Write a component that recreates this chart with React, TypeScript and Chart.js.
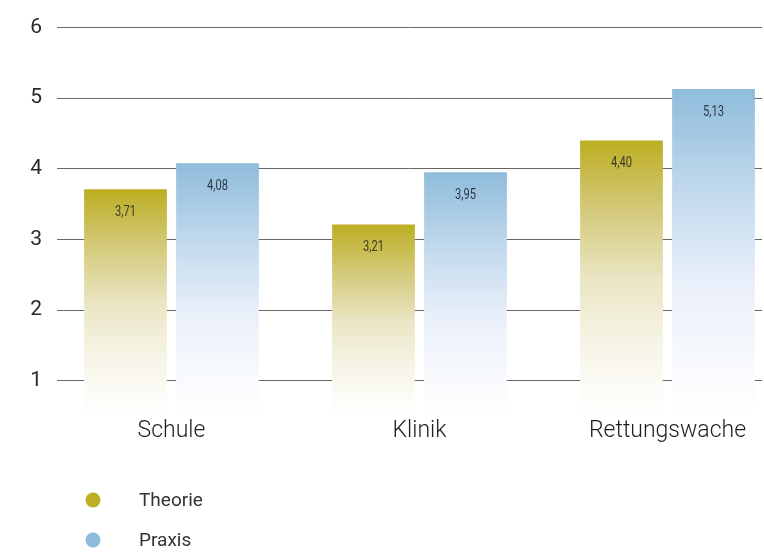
import React, { useEffect, useRef } from "react";
import { Chart, registerables } from "chart.js";

Chart.register(...registerables);

const categories = ["Schule", "Klinik", "Rettungswache"];
const theorieValues = [3.71, 3.21, 4.4];
const praxisValues = [4.08, 3.95, 5.13];
const seriesNames = ["Theorie", "Praxis"];
const yTickValues = [1, 2, 3, 4, 5, 6];

const THEORIE_COLOR = "#BDAE22";
const PRAXIS_COLOR = "#8FBCDB";
const FONT = "Roboto, 'Noto Sans', sans-serif";

function makeGradient(ctx: any, top: number, bottom: number, stops: [number, string][]) {
  const g = ctx.createLinearGradient(0, top, 0, bottom);
  stops.forEach(([o, c]) => g.addColorStop(o, c));
  return g;
}

const theorieStops: [number, string][] = [
  [0, "#BDAE22"],
  [0.25, "#D3C979"],
  [0.5, "#EAE5C3"],
  [0.75, "#F7F5E8"],
  [1, "#FFFFFF"],
];
const praxisStops: [number, string][] = [
  [0, "#8FBCDB"],
  [0.3, "#C0D8EC"],
  [0.6, "#EAF0FA"],
  [0.85, "#F8FAFD"],
  [1, "#FFFFFF"],
];

function barFill(stops: [number, string][], fallback: string) {
  return (context: any) => {
    const chart = context.chart;
    const area = chart.chartArea;
    if (!area || context.parsed == null || context.parsed.y == null) return fallback;
    const top = chart.scales.y.getPixelForValue(context.parsed.y);
    return makeGradient(chart.ctx, top, area.bottom, stops);
  };
}

const valueLabelPlugin = {
  id: "valueLabels",
  afterDatasetsDraw(chart: any) {
    const ctx = chart.ctx;
    chart.data.datasets.forEach((ds: any, di: number) => {
      const meta = chart.getDatasetMeta(di);
      meta.data.forEach((bar: any, i: number) => {
        const v = ds.data[i].y;
        const text = v.toFixed(2).replace(".", ",");
        ctx.save();
        ctx.translate(bar.x, bar.y + 23);
        ctx.scale(0.74, 1);
        ctx.font = `15px ${FONT}`;
        ctx.fillStyle = di === 0 ? "#3a3a2c" : "#2e3845";
        ctx.textAlign = "center";
        ctx.textBaseline = "middle";
        ctx.fillText(text, 0, 0);
        ctx.restore();
      });
    });
  },
};

const legendPlugin = {
  id: "customLegend",
  afterDraw(chart: any) {
    const ctx = chart.ctx;
    const colors = [THEORIE_COLOR, PRAXIS_COLOR];
    chart.data.datasets.forEach((ds: any, i: number) => {
      const cy = 500 + i * 40;
      ctx.save();
      ctx.beginPath();
      ctx.arc(93, cy, 7.5, 0, Math.PI * 2);
      ctx.fillStyle = colors[i];
      ctx.fill();
      ctx.font = `19px ${FONT}`;
      ctx.fillStyle = "#333333";
      ctx.textAlign = "left";
      ctx.textBaseline = "middle";
      ctx.fillText(ds.label, 139, cy + 1);
      ctx.restore();
    });
  },
};

export default function App() {
  const canvasRef = useRef<HTMLCanvasElement | null>(null);

  useEffect(() => {
    document.body.style.margin = "0";
    document.body.style.overflow = "hidden";
    const canvas = canvasRef.current;
    if (!canvas) return;
    const chart = new Chart(canvas, {
      type: "bar",
      data: {
        datasets: [
          {
            label: seriesNames[0],
            data: theorieValues.map((y, x) => ({ x, y })),
            backgroundColor: barFill(theorieStops, THEORIE_COLOR),
            borderWidth: 0,
          },
          {
            label: seriesNames[1],
            data: praxisValues.map((y, x) => ({ x, y })),
            backgroundColor: barFill(praxisStops, PRAXIS_COLOR),
            borderWidth: 0,
          },
        ] as any,
      },
      options: {
        animation: false,
        responsive: true,
        maintainAspectRatio: false,
        barPercentage: 0.9,
        categoryPercentage: 0.742,
        layout: { padding: { top: 25, left: 0, right: 2, bottom: 100 } },
        plugins: {
          legend: { display: false },
          tooltip: { enabled: false },
        },
        scales: {
          x: {
            type: "linear",
            offset: false,
            min: -0.4617,
            max: 2.381,
            grid: { display: false, drawTicks: false },
            border: { display: false },
            afterBuildTicks: (scale: any) => {
              scale.ticks = categories.map((_, i) => ({ value: i }));
            },
            afterFit: (scale: any) => {
              scale.height = 38;
            },
            ticks: {
              autoSkip: false,
              maxRotation: 0,
              padding: 1,
              color: "#1e1e1e",
              font: { family: FONT, size: 23, weight: "300" },
              callback: (v: any) => categories[Math.round(Number(v))] ?? "",
            },
          },
          y: {
            min: 0.5,
            max: 6,
            afterBuildTicks: (scale: any) => {
              scale.ticks = yTickValues.map((value) => ({ value }));
            },
            afterFit: (scale: any) => {
              scale.width = 57;
            },
            grid: { color: "#666666", lineWidth: 1, drawTicks: false },
            border: { display: false },
            ticks: {
              padding: 15,
              color: "#2a2a2a",
              font: { family: FONT, size: 21 },
              callback: (v: any) => String(v),
            },
          },
        },
      } as any,
      plugins: [valueLabelPlugin, legendPlugin],
    });
    return () => chart.destroy();
  }, []);

  return (
    <div style={{ position: "relative", width: 764, height: 554 }}>
      <canvas ref={canvasRef} />
    </div>
  );
}
